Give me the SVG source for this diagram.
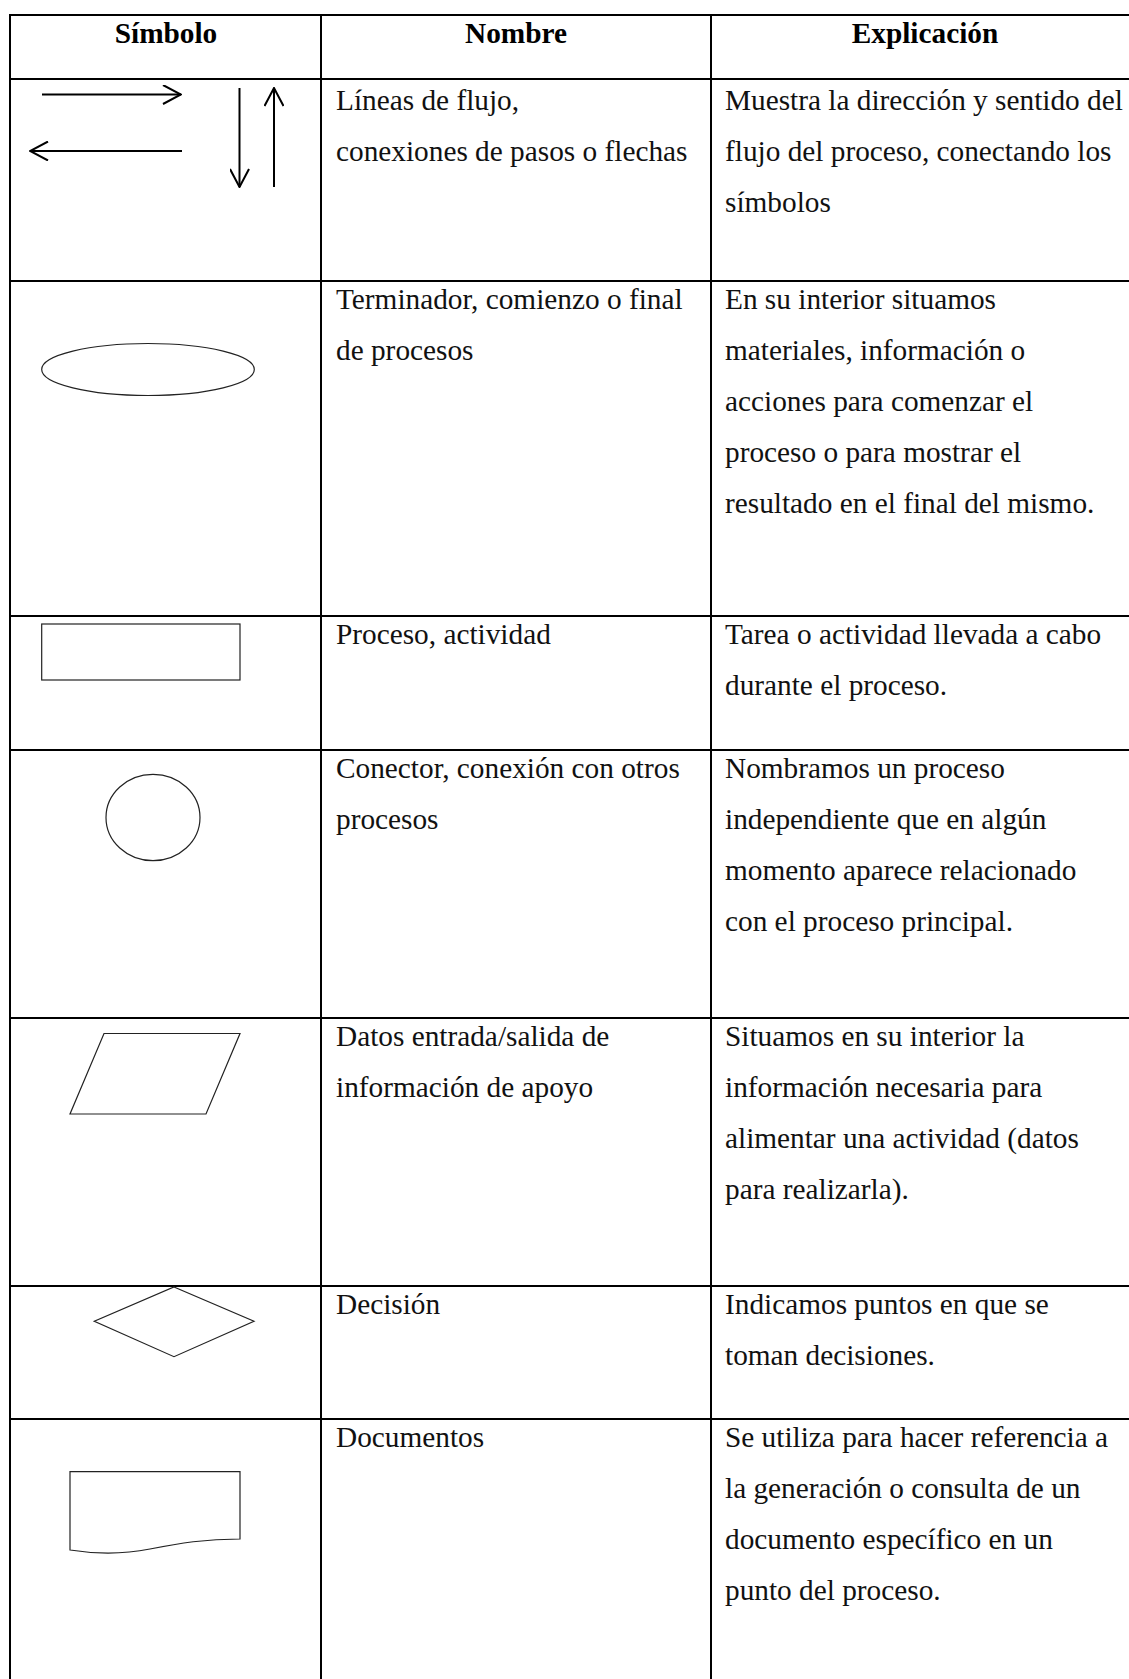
<svg xmlns="http://www.w3.org/2000/svg" width="1129" height="1679" viewBox="0 0 1129 1679">
<style>
  .grid { stroke: #000; stroke-width: 2; fill: none; }
  .hd { font-family: "Liberation Serif", "Times New Roman", serif; font-size: 29.3px; font-weight: bold; fill: #000; text-anchor: middle; }
  .tx { font-family: "Liberation Serif", "Times New Roman", serif; font-size: 29.3px; fill: #111; }
  .shape { stroke: #222; stroke-width: 1.2; fill: #fff; }
  .arrow { stroke: #000; stroke-width: 2; fill: none; }
</style>
<defs>
  <marker id="chev" viewBox="0 0 20 20" markerWidth="20" markerHeight="20" refX="19" refY="10" orient="auto" markerUnits="userSpaceOnUse">
    <path d="M1,0.5 L19,10 L1,19.5" fill="none" stroke="#000" stroke-width="2"/>
  </marker>
</defs>
<rect x="0" y="0" width="1129" height="1679" fill="#fff"/>

<g id="table-grid" class="grid">
  <line x1="10" y1="15" x2="1129" y2="15"/>
  <line x1="10" y1="79" x2="1129" y2="79"/>
  <line x1="10" y1="281" x2="1129" y2="281"/>
  <line x1="10" y1="616" x2="1129" y2="616"/>
  <line x1="10" y1="750" x2="1129" y2="750"/>
  <line x1="10" y1="1018" x2="1129" y2="1018"/>
  <line x1="10" y1="1286" x2="1129" y2="1286"/>
  <line x1="10" y1="1419" x2="1129" y2="1419"/>
  <line x1="10" y1="14" x2="10" y2="1679"/>
  <line x1="321" y1="14" x2="321" y2="1679"/>
  <line x1="711" y1="14" x2="711" y2="1679"/>
</g>

<g id="header">
  <text class="hd" x="166" y="43">Símbolo</text>
  <text class="hd" x="516" y="43">Nombre</text>
  <text class="hd" x="925" y="43">Explicación</text>
</g>

<g id="connectors">
  <line class="arrow" x1="42" y1="94.5" x2="181" y2="94.5" marker-end="url(#chev)"/>
  <line class="arrow" x1="182" y1="151" x2="30" y2="151" marker-end="url(#chev)"/>
  <line class="arrow" x1="239.5" y1="88" x2="239.5" y2="187" marker-end="url(#chev)"/>
  <line class="arrow" x1="274" y1="187" x2="274" y2="88" marker-end="url(#chev)"/>
</g>

<g id="row-flujo">
  <text class="tx" x="336" y="110">Líneas de flujo,</text>
  <text class="tx" x="336" y="161">conexiones de pasos o flechas</text>
  <text class="tx" x="725" y="110">Muestra la dirección y sentido del</text>
  <text class="tx" x="725" y="161">flujo del proceso, conectando los</text>
  <text class="tx" x="725" y="212">símbolos</text>
</g>

<g id="row-terminador">
  <ellipse class="shape" cx="148" cy="369.5" rx="106.3" ry="26"/>
  <text class="tx" x="336" y="309">Terminador, comienzo o final</text>
  <text class="tx" x="336" y="360">de procesos</text>
  <text class="tx" x="725" y="309">En su interior situamos</text>
  <text class="tx" x="725" y="360">materiales, información o</text>
  <text class="tx" x="725" y="411">acciones para comenzar el</text>
  <text class="tx" x="725" y="462">proceso o para mostrar el</text>
  <text class="tx" x="725" y="513">resultado en el final del mismo.</text>
</g>

<g id="row-proceso">
  <rect class="shape" x="41.7" y="624" width="198.3" height="56"/>
  <text class="tx" x="336" y="644">Proceso, actividad</text>
  <text class="tx" x="725" y="644">Tarea o actividad llevada a cabo</text>
  <text class="tx" x="725" y="695">durante el proceso.</text>
</g>

<g id="row-conector">
  <ellipse class="shape" cx="153" cy="817.5" rx="47" ry="43.2"/>
  <text class="tx" x="336" y="778">Conector, conexión con otros</text>
  <text class="tx" x="336" y="829">procesos</text>
  <text class="tx" x="725" y="778">Nombramos un proceso</text>
  <text class="tx" x="725" y="829">independiente que en algún</text>
  <text class="tx" x="725" y="880">momento aparece relacionado</text>
  <text class="tx" x="725" y="931">con el proceso principal.</text>
</g>

<g id="row-datos">
  <polygon class="shape" points="104,1033.5 240,1033.5 206,1114 70,1114"/>
  <text class="tx" x="336" y="1046">Datos entrada/salida de</text>
  <text class="tx" x="336" y="1097">información de apoyo</text>
  <text class="tx" x="725" y="1046">Situamos en su interior la</text>
  <text class="tx" x="725" y="1097">información necesaria para</text>
  <text class="tx" x="725" y="1148">alimentar una actividad (datos</text>
  <text class="tx" x="725" y="1199">para realizarla).</text>
</g>

<g id="row-decision">
  <polygon class="shape" points="174,1287 254,1321.3 174,1356.7 94.3,1321.3"/>
  <text class="tx" x="336" y="1313.5">Decisión</text>
  <text class="tx" x="725" y="1313.5">Indicamos puntos en que se</text>
  <text class="tx" x="725" y="1364.5">toman decisiones.</text>
</g>

<g id="row-documentos">
  <path class="shape" d="M70,1550 V1471.7 H240 V1539 C205,1539 180,1543 150,1549 C120,1555 95,1554 70,1550 Z"/>
  <text class="tx" x="336" y="1447">Documentos</text>
  <text class="tx" x="725" y="1447">Se utiliza para hacer referencia a</text>
  <text class="tx" x="725" y="1498">la generación o consulta de un</text>
  <text class="tx" x="725" y="1549">documento específico en un</text>
  <text class="tx" x="725" y="1600">punto del proceso.</text>
</g>
</svg>
